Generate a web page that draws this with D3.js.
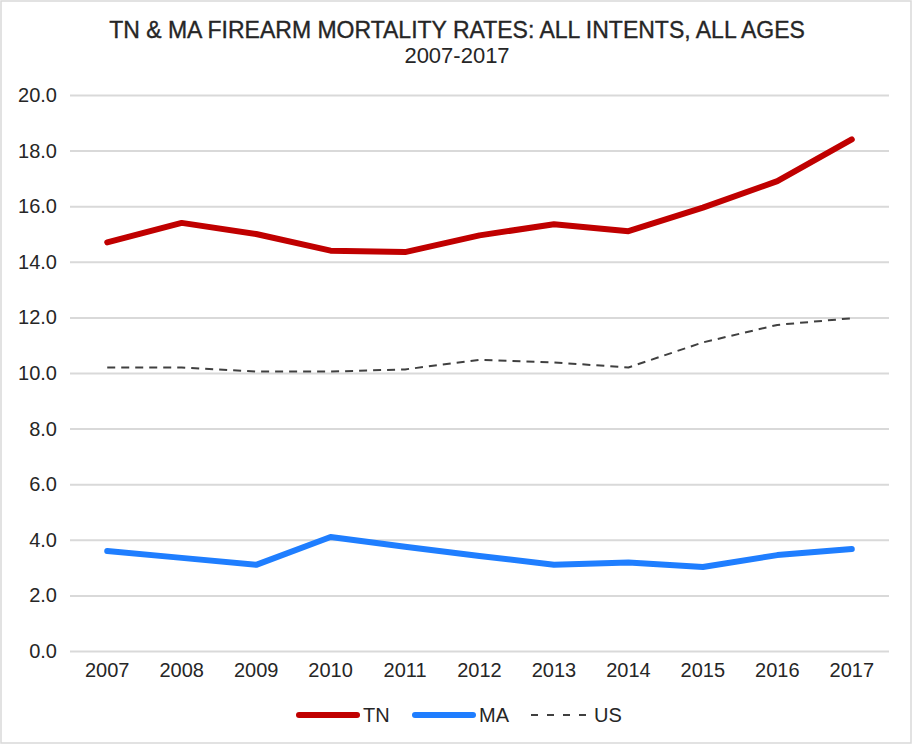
<!DOCTYPE html>
<html>
<head>
<meta charset="utf-8">
<script src="https://cdn.jsdelivr.net/npm/d3@7"></script>
<style>
  body { margin: 0; background: #fff; }
  text { font-family: "Liberation Sans", Arial, sans-serif; fill: #262626; }
</style>
</head>
<body>
<script>
const w = 914;
const h = 745;

// chart data
const years = ["2007", "2008", "2009", "2010", "2011", "2012", "2013", "2014", "2015", "2016", "2017"];
const tn = [14.7, 15.4, 15.0, 14.4, 14.35, 14.95, 15.35, 15.1, 15.95, 16.9, 18.4];
const ma = [3.6, 3.35, 3.1, 4.1, 3.75, 3.42, 3.1, 3.18, 3.02, 3.45, 3.67];
const us = [10.2, 10.2, 10.05, 10.05, 10.13, 10.47, 10.38, 10.2, 11.1, 11.73, 11.97];
const yTicks = [0, 2, 4, 6, 8, 10, 12, 14, 16, 18, 20];

const series = [
  { name: "TN", values: tn, color: "#C00000", width: 6, dash: null },
  { name: "MA", values: ma, color: "#1F7EFF", width: 6, dash: null },
  { name: "US", values: us, color: "#404040", width: 2, dash: "8,6" }
];

const svg = d3.select("body")
    .append("svg")
    .attr("width", w)
    .attr("height", h)

// outer border
svg.append("rect")
    .attr("x", 1)
    .attr("y", 1)
    .attr("width", w - 4)
    .attr("height", h - 3)
    .style("fill", "#fff")
    .style("stroke", "#d9d9d9")
    .style("stroke-width", 1.5)

const xScale = d3.scaleBand()
    .domain(years)
    .range([70, 889])

const yScale = d3.scaleLinear()
    .domain([0, 20])
    .range([651, 95])

// gridlines + y labels
const yAxis = d3.axisLeft(yScale)
    .tickValues(yTicks)
    .tickSize(-(889 - 70))
    .tickPadding(13)
    .tickFormat(d3.format(".1f"))

const gy = svg.append("g")
    .attr("transform", "translate(70, 0)")
    .call(yAxis)
gy.select(".domain").remove()
gy.selectAll(".tick line").style("stroke", "#d9d9d9").style("stroke-width", 2)
gy.selectAll(".tick text").style("font-size", "20px").style("fill", "#262626")

// x labels
const xAxis = d3.axisBottom(xScale).tickSize(0).tickPadding(12)
const gx = svg.append("g")
    .attr("transform", "translate(0, 651)")
    .call(xAxis)
gx.select(".domain").remove()
gx.selectAll(".tick text").style("font-size", "20px").style("fill", "#262626")

const line = d3.line()
    .x((d, i) => xScale(years[i]) + xScale.bandwidth() / 2)
    .y(d => yScale(d))

// data lines
series.forEach(s => {
  svg.append("path")
      .datum(s.values)
      .attr("d", line)
      .style("fill", "none")
      .style("stroke", s.color)
      .style("stroke-width", s.width)
      .style("stroke-linecap", s.dash ? "butt" : "round")
      .style("stroke-linejoin", "round")
      .style("stroke-dasharray", s.dash)
})

// Title
svg.append("text")
    .attr("x", 457)
    .attr("y", 38)
    .attr("text-anchor", "middle")
    .text("TN & MA FIREARM MORTALITY RATES: ALL INTENTS, ALL AGES")
    .style("font-size", "23px")
    .style("stroke", "#262626")
    .style("stroke-width", 0.35)

svg.append("text")
    .attr("x", 457)
    .attr("y", 63)
    .attr("text-anchor", "middle")
    .text("2007-2017")
    .style("font-size", "22px")

// Legend
const legendX = [299, 415, 531];
const legend = svg.selectAll(".legend")
    .data(series)
    .enter()
    .append("g")
      .attr("class", "legend")
      .attr("transform", (d, i) => "translate(" + legendX[i] + ", 715)")

legend.append("line")
    .attr("x1", 0)
    .attr("x2", (d) => d.dash ? 55 : 58)
    .attr("y1", 0)
    .attr("y2", 0)
    .style("stroke", (d) => d.color)
    .style("stroke-width", (d) => d.width)
    .style("stroke-linecap", (d) => d.dash ? "butt" : "round")
    .style("stroke-dasharray", (d) => d.dash ? "7,9" : null)

legend.append("text")
    .attr("x", (d) => d.dash ? 63 : 64)
    .attr("y", 7)
    .text((d) => d.name)
    .style("font-size", "20px")
</script>
</body>
</html>
